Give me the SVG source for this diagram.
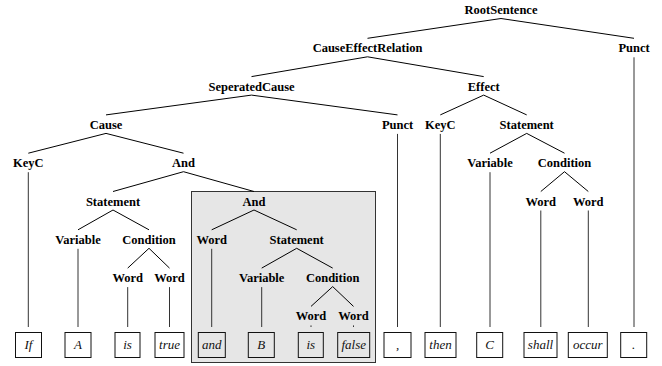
<svg xmlns="http://www.w3.org/2000/svg" width="662" height="366" viewBox="0 0 662 366">
<style>
.lbl{font-weight:bold;font-size:12.5px;text-anchor:middle;fill:#000}
.leaf{font-style:italic;font-size:13px;text-anchor:middle;fill:#111}
.box{fill:none;stroke:#111;stroke-width:1}
.e{stroke:#000;stroke-width:1;fill:none}
.v{stroke:#333;stroke-width:1;fill:none}
</style>
<rect width="662" height="366" fill="#fff"/>
<rect id="highlight" x="191.5" y="191.5" width="184" height="171" fill="#e6e6e6" stroke="#333" stroke-width="1"/>
<g id="connectors">
<line class="e" x1="501" y1="18.5" x2="367.5" y2="38.3"/>
<line class="e" x1="501" y1="18.5" x2="634" y2="38.3"/>
<line class="e" x1="367.5" y1="56.8" x2="251.5" y2="76.6"/>
<line class="e" x1="367.5" y1="56.8" x2="483.7" y2="76.6"/>
<line class="e" x1="251.5" y1="95.1" x2="106" y2="114.9"/>
<line class="e" x1="251.5" y1="95.1" x2="397.5" y2="114.9"/>
<line class="e" x1="483.7" y1="95.1" x2="440.3" y2="114.9"/>
<line class="e" x1="483.7" y1="95.1" x2="526.7" y2="114.9"/>
<line class="e" x1="106" y1="133.4" x2="28.3" y2="153.2"/>
<line class="e" x1="106" y1="133.4" x2="183.5" y2="153.2"/>
<line class="e" x1="526.7" y1="133.4" x2="490" y2="153.2"/>
<line class="e" x1="526.7" y1="133.4" x2="564.5" y2="153.2"/>
<line class="e" x1="183.5" y1="171.7" x2="113" y2="191.5"/>
<line class="e" x1="183.5" y1="171.7" x2="254" y2="191.5"/>
<line class="e" x1="564.5" y1="171.7" x2="540.8" y2="191.5"/>
<line class="e" x1="564.5" y1="171.7" x2="588.3" y2="191.5"/>
<line class="e" x1="113" y1="210" x2="78" y2="229.8"/>
<line class="e" x1="113" y1="210" x2="149" y2="229.8"/>
<line class="e" x1="254" y1="210" x2="211.7" y2="229.8"/>
<line class="e" x1="254" y1="210" x2="296.7" y2="229.8"/>
<line class="e" x1="149" y1="248.3" x2="127.7" y2="268.1"/>
<line class="e" x1="149" y1="248.3" x2="169.5" y2="268.1"/>
<line class="e" x1="296.7" y1="248.3" x2="261.7" y2="268.1"/>
<line class="e" x1="296.7" y1="248.3" x2="332.7" y2="268.1"/>
<line class="e" x1="332.7" y1="286.6" x2="311" y2="306.4"/>
<line class="e" x1="332.7" y1="286.6" x2="353.5" y2="306.4"/>
<line class="v" x1="634" y1="57.3" x2="634" y2="327"/>
<line class="v" x1="397.5" y1="133.9" x2="397.5" y2="327"/>
<line class="v" x1="440.3" y1="133.9" x2="440.3" y2="327"/>
<line class="v" x1="28.3" y1="172.2" x2="28.3" y2="327"/>
<line class="v" x1="490" y1="172.2" x2="490" y2="327"/>
<line class="v" x1="540.8" y1="210.5" x2="540.8" y2="327"/>
<line class="v" x1="588.3" y1="210.5" x2="588.3" y2="327"/>
<line class="v" x1="78" y1="248.8" x2="78" y2="327"/>
<line class="v" x1="211.7" y1="248.8" x2="211.7" y2="327"/>
<line class="v" x1="127.7" y1="287.1" x2="127.7" y2="327"/>
<line class="v" x1="169.5" y1="287.1" x2="169.5" y2="327"/>
<line class="v" x1="261.7" y1="287.1" x2="261.7" y2="327"/>
<line class="v" x1="311" y1="325.4" x2="311" y2="327"/>
<line class="v" x1="353.5" y1="325.4" x2="353.5" y2="327"/>
</g>
<g id="nodes" font-family="Liberation Serif, DejaVu Serif, serif">
<g id="n-root"><text class="lbl" x="501" y="14">RootSentence</text></g>
<g id="n-cer"><text class="lbl" x="367.5" y="52.3">CauseEffectRelation</text></g>
<g id="n-punct1"><text class="lbl" x="634" y="52.3">Punct</text></g>
<g id="n-sepcause"><text class="lbl" x="251.5" y="90.6">SeperatedCause</text></g>
<g id="n-effect"><text class="lbl" x="483.7" y="90.6">Effect</text></g>
<g id="n-cause"><text class="lbl" x="106" y="128.9">Cause</text></g>
<g id="n-punct2"><text class="lbl" x="397.5" y="128.9">Punct</text></g>
<g id="n-keyc2"><text class="lbl" x="440.3" y="128.9">KeyC</text></g>
<g id="n-stmt-e"><text class="lbl" x="526.7" y="128.9">Statement</text></g>
<g id="n-keyc1"><text class="lbl" x="28.3" y="167.2">KeyC</text></g>
<g id="n-and1"><text class="lbl" x="183.5" y="167.2">And</text></g>
<g id="n-var-e"><text class="lbl" x="490" y="167.2">Variable</text></g>
<g id="n-cond-e"><text class="lbl" x="564.5" y="167.2">Condition</text></g>
<g id="n-stmt-c"><text class="lbl" x="113" y="205.5">Statement</text></g>
<g id="n-and2"><text class="lbl" x="254" y="205.5">And</text></g>
<g id="n-word-shall"><text class="lbl" x="540.8" y="205.5">Word</text></g>
<g id="n-word-occur"><text class="lbl" x="588.3" y="205.5">Word</text></g>
<g id="n-var-c"><text class="lbl" x="78" y="243.8">Variable</text></g>
<g id="n-cond-c"><text class="lbl" x="149" y="243.8">Condition</text></g>
<g id="n-word-and"><text class="lbl" x="211.7" y="243.8">Word</text></g>
<g id="n-stmt-g"><text class="lbl" x="296.7" y="243.8">Statement</text></g>
<g id="n-word-is1"><text class="lbl" x="127.7" y="282.1">Word</text></g>
<g id="n-word-true"><text class="lbl" x="169.5" y="282.1">Word</text></g>
<g id="n-var-g"><text class="lbl" x="261.7" y="282.1">Variable</text></g>
<g id="n-cond-g"><text class="lbl" x="332.7" y="282.1">Condition</text></g>
<g id="n-word-is2"><text class="lbl" x="311" y="320.4">Word</text></g>
<g id="n-word-false"><text class="lbl" x="353.5" y="320.4">Word</text></g>
<g id="leaf-if"><rect class="box" x="15.5" y="332.5" width="26" height="25"/><text class="leaf" x="28.5" y="348.5">If</text></g>
<g id="leaf-a"><rect class="box" x="65" y="332.5" width="26" height="25"/><text class="leaf" x="78" y="348.5">A</text></g>
<g id="leaf-is1"><rect class="box" x="115" y="332.5" width="25" height="25"/><text class="leaf" x="127.5" y="348.5">is</text></g>
<g id="leaf-true"><rect class="box" x="155" y="332.5" width="29" height="25"/><text class="leaf" x="169.5" y="348.5">true</text></g>
<g id="leaf-and"><rect class="box" x="198.3" y="332.5" width="27" height="25"/><text class="leaf" x="211.8" y="348.5">and</text></g>
<g id="leaf-b"><rect class="box" x="248.3" y="332.5" width="26" height="25"/><text class="leaf" x="261.3" y="348.5">B</text></g>
<g id="leaf-is2"><rect class="box" x="298.3" y="332.5" width="25" height="25"/><text class="leaf" x="310.8" y="348.5">is</text></g>
<g id="leaf-false"><rect class="box" x="337.7" y="332.5" width="32" height="25"/><text class="leaf" x="353.7" y="348.5">false</text></g>
<g id="leaf-comma"><rect class="box" x="384" y="332.5" width="27" height="25"/><text class="leaf" x="397.5" y="348.5">,</text></g>
<g id="leaf-then"><rect class="box" x="425" y="332.5" width="31" height="25"/><text class="leaf" x="440.5" y="348.5">then</text></g>
<g id="leaf-c"><rect class="box" x="476.7" y="332.5" width="26" height="25"/><text class="leaf" x="489.7" y="348.5">C</text></g>
<g id="leaf-shall"><rect class="box" x="524" y="332.5" width="33" height="25"/><text class="leaf" x="540.5" y="348.5">shall</text></g>
<g id="leaf-occur"><rect class="box" x="568.3" y="332.5" width="39" height="25"/><text class="leaf" x="587.8" y="348.5">occur</text></g>
<g id="leaf-period"><rect class="box" x="620.7" y="332.5" width="26" height="25"/><text class="leaf" x="633.7" y="348.5">.</text></g>
</g>
</svg>
